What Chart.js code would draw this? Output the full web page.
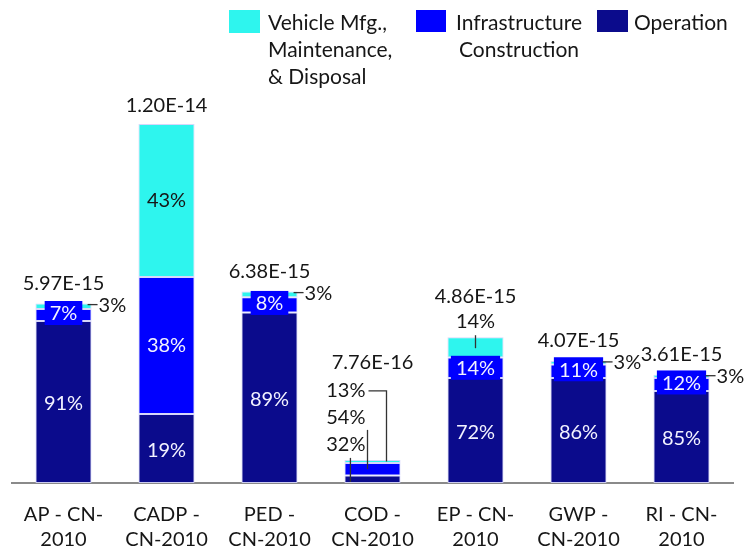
<!DOCTYPE html>
<html>
<head>
<meta charset="utf-8">
<script src="https://cdn.jsdelivr.net/npm/chart.js@4"></script>
<style>
  html, body { margin: 0; padding: 0; background: #fff; }
  #wrap { width: 745px; height: 549px; }
</style>
</head>
<body>
<div id="wrap"><canvas id="chart"></canvas></div>
<script>
// Catégories (libellés sur deux lignes)
const categories = [
  ['AP - CN-', '2010'], ['CADP -', 'CN-2010'], ['PED -', 'CN-2010'], ['COD -', 'CN-2010'],
  ['EP - CN-', '2010'], ['GWP -', 'CN-2010'], ['RI - CN-', '2010']
];
// valeurs en unités de 1E-15
const operation      = [5.40, 2.30, 5.68, 0.25, 3.50, 3.50, 3.07];
const infrastructure = [0.40, 4.57, 0.51, 0.42, 0.68, 0.45, 0.43];
const vehicle        = [0.18, 5.10, 0.19, 0.10, 0.68, 0.12, 0.11];

const totals    = ['5.97E-15', '1.20E-14', '6.38E-15', '7.76E-16', '4.86E-15', '4.07E-15', '3.61E-15'];
const opPct     = ['91%', '19%', '89%', '32%', '72%', '86%', '85%'];
const infraPct  = ['7%', '38%', '8%', '54%', '14%', '11%', '12%'];
const vehPct    = ['3%', '43%', '3%', '13%', '14%', '3%', '3%'];
// comment placer les étiquettes de chaque barre
const labelStyle = ['small', 'inside', 'small', 'stack', 'top', 'small', 'small'];

const CYAN = '#2ef5ee', BLUE = '#0000ff', NAVY = '#0b0b8c';
const FONT = '20px Lato';
const LEGEND_FONT = '21px Lato';
const DARK = '#161616', LIGHT = '#f2f2ff';

const labelPlugin = {
  id: 'labels',
  afterDatasetsDraw(chart) {
    const ctx = chart.ctx;
    const mOp = chart.getDatasetMeta(0).data;
    const mIn = chart.getDatasetMeta(1).data;
    const mVe = chart.getDatasetMeta(2).data;
    const mid = el => (el.y + el.base) / 2;
    ctx.save();
    ctx.font = FONT;
    ctx.textBaseline = 'middle';
    ctx.strokeStyle = '#333';
    ctx.lineWidth = 1.3;

    const text = (t, x, y, color, align) => {
      ctx.fillStyle = color;
      ctx.textAlign = align || 'center';
      ctx.fillText(t, x, y);
    };
    const line = pts => {
      ctx.beginPath();
      ctx.moveTo(pts[0], pts[1]);
      for (let k = 2; k < pts.length; k += 2) ctx.lineTo(pts[k], pts[k + 1]);
      ctx.stroke();
    };
    const boxLabel = (t, x, y) => {
      const w = ctx.measureText(t).width + 10;
      ctx.fillStyle = BLUE;
      ctx.fillRect(x - w / 2, y - 12, w, 24);
      text(t, x, y + 1, LIGHT);
    };

    categories.forEach((c, i) => {
      const op = mOp[i], inf = mIn[i], ve = mVe[i];
      const x = op.x, half = op.width / 2, top = ve.y;
      const style = labelStyle[i];

      if (style === 'inside') {
        text(opPct[i], x, mid(op) + 2, LIGHT);
        text(infraPct[i], x, mid(inf), LIGHT);
        text(vehPct[i], x, mid(ve), DARK);
        text(totals[i], x, top - 18, DARK);
      } else if (style === 'small') {
        text(opPct[i], x, mid(op) + 2, LIGHT);
        boxLabel(infraPct[i], x, mid(inf) - 2);
        line([x + half - 4, top + 1, x + half + 6, top + 1]);
        text(vehPct[i], x + half + 7, top + 2, DARK, 'left');
        text(totals[i], x, top - 20, DARK);
      } else if (style === 'top') {
        text(opPct[i], x, mid(op) + 2, LIGHT);
        boxLabel(infraPct[i], x, mid(inf));
        line([x, top - 2, x, top + 11]);
        text(vehPct[i], x, top - 16, DARK);
        text(totals[i], x, top - 41, DARK);
      } else if (style === 'stack') {
        text(totals[i], x, top - 97, DARK);
        const tx = x - 7;
        text(vehPct[i], tx, top - 69, DARK, 'right');
        text(infraPct[i], tx, top - 42, DARK, 'right');
        text(opPct[i], tx, top - 15, DARK, 'right');
        line([x - 4, top - 69, x + 14, top - 69, x + 14, mid(ve)]);
        line([x - 5, top - 30, x - 5, mid(inf)]);
        line([x - half + 6, top - 2, x - half + 6, op.base - 1]);
      }
    });
    ctx.restore();
  }
};

// légende dessinée à la main (libellés sur plusieurs lignes)
const legendPlugin = {
  id: 'customLegend',
  afterDraw(chart) {
    const ctx = chart.ctx;
    ctx.save();
    ctx.font = LEGEND_FONT;
    ctx.textBaseline = 'middle';
    ctx.fillStyle = CYAN;
    ctx.fillRect(229, 10, 31, 23);
    ctx.fillStyle = BLUE;
    ctx.fillRect(416, 10, 30, 22);
    ctx.fillStyle = NAVY;
    ctx.fillRect(597, 10, 31, 22);
    ctx.fillStyle = DARK;
    ctx.textAlign = 'left';
    ['Vehicle Mfg.,', 'Maintenance,', '& Disposal'].forEach((t, k) => ctx.fillText(t, 268, 23 + k * 27));
    ctx.textAlign = 'center';
    ['Infrastructure', 'Construction'].forEach((t, k) => ctx.fillText(t, 519, 23 + k * 27));
    ctx.textAlign = 'left';
    ctx.fillText('Operation', 634, 23);
    ctx.restore();
  }
};

const ds = (label, data, color) => ({
  label: label,
  data: data,
  backgroundColor: color,
  borderColor: 'rgba(210,210,250,0.9)',
  borderWidth: 1,
  borderSkipped: false,
  barPercentage: 0.545,
  categoryPercentage: 1
});

new Chart(document.getElementById('chart'), {
  type: 'bar',
  data: {
    labels: categories,
    datasets: [
      ds('Operation', operation, NAVY),
      ds('Infrastructure Construction', infrastructure, BLUE),
      ds('Vehicle Mfg., Maintenance, & Disposal', vehicle, CYAN)
    ]
  },
  options: {
    responsive: true,
    maintainAspectRatio: false,
    animation: false,
    layout: { padding: { top: 3, left: 12, right: 12, bottom: 0 } },
    plugins: { legend: { display: false }, tooltip: { enabled: false } },
    scales: {
      x: {
        stacked: true,
        grid: { display: false, drawTicks: false },
        border: { display: true, color: '#8a8a8a', width: 2 },
        ticks: { color: DARK, font: { family: 'Lato', size: 20, lineHeight: 1.25 }, padding: 19, maxRotation: 0 },
        afterFit(scale) { scale.height = 66; }
      },
      y: {
        stacked: true,
        display: false,
        min: 0,
        max: 16
      }
    }
  },
  plugins: [labelPlugin, legendPlugin]
});
</script>
</body>
</html>
